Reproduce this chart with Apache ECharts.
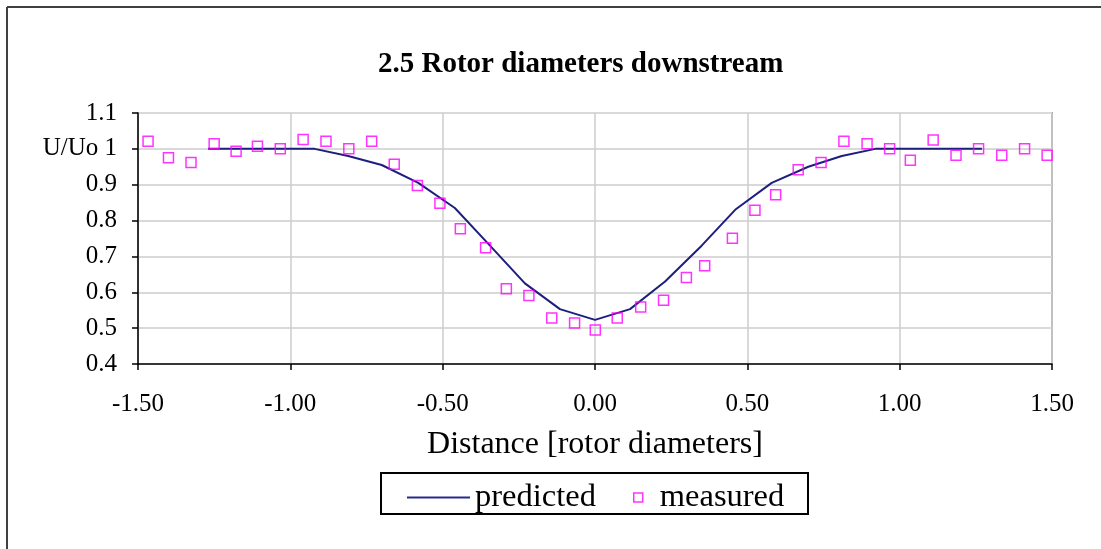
<!DOCTYPE html>
<html>
<head>
<meta charset="utf-8">
<script src="https://cdn.jsdelivr.net/npm/echarts@6/dist/echarts.min.js"></script>
<style>
html,body{margin:0;padding:0;background:#fff;}
#chart{width:1101px;height:549px;}
</style>
</head>
<body>
<div id="chart"></div>
<script>
// Data
const titleText = '2.5 Rotor diameters downstream';
const xAxisTitle = 'Distance [rotor diameters]';
const yAxisTitle = 'U/Uo';
const xTicks = [-1.5, -1.0, -0.5, 0.0, 0.5, 1.0, 1.5];
const yTicks = [0.4, 0.5, 0.6, 0.7, 0.8, 0.9, 1.0, 1.1];

const predictedX = [-1.27, -0.92, -0.81, -0.70, -0.58, -0.46, -0.35, -0.23, -0.115, 0.0, 0.115, 0.23, 0.35, 0.46, 0.58, 0.70, 0.81, 0.92, 1.27];
const predictedY = [1.0, 1.0, 0.98, 0.955, 0.905, 0.835, 0.735, 0.625, 0.553, 0.523, 0.553, 0.63, 0.73, 0.83, 0.905, 0.95, 0.98, 1.0, 1.0];

const measuredX = [-1.467, -1.400, -1.326, -1.250, -1.178, -1.108, -1.033, -0.958, -0.883, -0.808, -0.733,
  -0.659, -0.583, -0.509, -0.442, -0.359, -0.291, -0.217, -0.142, -0.067, 0.001, 0.073,
  0.150, 0.225, 0.300, 0.360, 0.451, 0.525, 0.593, 0.667, 0.742, 0.817,
  0.893, 0.967, 1.035, 1.110, 1.185, 1.259, 1.335, 1.410, 1.484];
const measuredY = [1.021, 0.975, 0.962, 1.014, 0.993, 1.007, 1.000, 1.026, 1.021, 1.000, 1.021,
  0.957, 0.898, 0.848, 0.777, 0.724, 0.610, 0.591, 0.528, 0.514, 0.495, 0.528,
  0.559, 0.578, 0.641, 0.674, 0.751, 0.829, 0.872, 0.942, 0.962, 1.021,
  1.014, 1.000, 0.968, 1.025, 0.982, 1.000, 0.982, 1.000, 0.982];

const seriesNames = ['predicted', 'measured'];

const chart = echarts.init(document.getElementById('chart'), null, {renderer: 'canvas'});
const serif = '"Liberation Serif", "DejaVu Serif", serif';
const lineColor = '#1e1e7e';

const option = {
  backgroundColor: '#ffffff',
  animation: false,
  title: {
    text: titleText,
    left: 373,
    top: 45,
    textStyle: {fontFamily: serif, fontSize: 29, fontWeight: 'bold', color: '#000'}
  },
  grid: {
    left: 138, right: 49, top: 113, bottom: 185,
    show: true, borderColor: '#a0a0a0', borderWidth: 2, backgroundColor: 'transparent'
  },
  legend: [
    {
      data: [{name: seriesNames[0], icon: 'rect', itemStyle: {color: '#2a2a8e', borderWidth: 0}}],
      left: 402, top: 476,
      itemWidth: 63, itemHeight: 2,
      textStyle: {fontFamily: serif, fontSize: 32.5, color: '#000'}
    },
    {
      data: [{name: seriesNames[1], icon: 'rect', itemStyle: {color: 'rgba(0,0,0,0)', borderColor: '#ff00ff', borderWidth: 1.5}}],
      left: 628, top: 476,
      itemWidth: 9, itemHeight: 9,
      textStyle: {fontFamily: serif, fontSize: 32.5, color: '#000', padding: [0, 0, 0, 12]}
    }
  ],
  xAxis: {
    type: 'value',
    min: xTicks[0], max: xTicks[xTicks.length - 1], interval: 0.5,
    name: xAxisTitle,
    nameLocation: 'middle',
    nameGap: 65,
    nameTextStyle: {fontFamily: serif, fontSize: 32, color: '#000'},
    axisLine: {onZero: false, lineStyle: {color: '#000', width: 1.5}},
    axisTick: {show: true, length: 6, lineStyle: {color: '#000', width: 1.5}},
    axisLabel: {
      margin: 28, fontFamily: serif, fontSize: 25, color: '#000',
      formatter: v => v.toFixed(2)
    },
    splitLine: {show: true, lineStyle: {color: '#cccccc', width: 1.5}}
  },
  yAxis: {
    type: 'value',
    min: yTicks[0], max: yTicks[yTicks.length - 1], interval: 0.1,
    axisLine: {show: true, onZero: false, lineStyle: {color: '#000', width: 1.5}},
    axisTick: {show: true, length: 6, lineStyle: {color: '#000', width: 1.5}},
    axisLabel: {
      margin: 21, fontFamily: serif, fontSize: 25, color: '#000',
      formatter: v => {
        const r = Math.round(v * 10) / 10;
        return r === 1 ? yAxisTitle + ' 1' : String(r);
      }
    },
    splitLine: {show: true, lineStyle: {color: '#d9d9d9', width: 2}}
  },
  graphic: [
    {type: 'line', shape: {x1: 7, y1: 7, x2: 1101, y2: 7}, style: {stroke: '#404040', lineWidth: 2}, silent: true},
    {type: 'line', shape: {x1: 7, y1: 7, x2: 7, y2: 549}, style: {stroke: '#404040', lineWidth: 2}, silent: true},
    {type: 'rect', shape: {x: 381, y: 473, width: 427, height: 41}, style: {fill: 'none', stroke: '#000', lineWidth: 2}, silent: true, z: 100}
  ],
  series: [
    {
      name: seriesNames[0],
      type: 'line',
      data: predictedX.map((x, i) => [x, predictedY[i]]),
      symbol: 'none',
      lineStyle: {color: lineColor, width: 2},
      itemStyle: {color: lineColor},
      z: 3
    },
    {
      name: seriesNames[1],
      type: 'scatter',
      data: measuredX.map((x, i) => [x, measuredY[i]]),
      symbol: 'rect',
      symbolSize: 10,
      itemStyle: {color: 'rgba(0,0,0,0)', borderColor: '#ff00ff', borderWidth: 1.5},
      z: 4
    }
  ]
};
chart.setOption(option);
</script>
</body>
</html>
